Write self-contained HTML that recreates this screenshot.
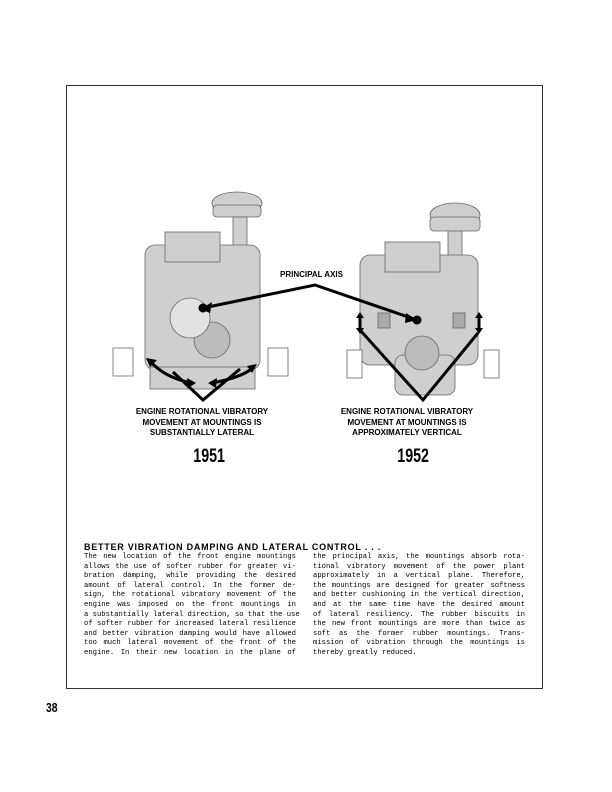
<!DOCTYPE html>
<html><head><meta charset="utf-8"><style>
body{margin:0;background:#fff;}
#p{position:relative;width:612px;height:792px;overflow:hidden;font-family:"Liberation Sans",sans-serif;}
.frame{position:absolute;left:66px;top:85px;width:475px;height:602px;border:1px solid #333;}
.lbl{position:absolute;font-weight:bold;font-size:8px;text-align:center;line-height:10.5px;color:#000;}
.yr{position:absolute;font-weight:bold;font-size:19px;transform:scaleX(0.75);color:#000;}
.col{position:absolute;top:553px;width:212px;font-family:"Liberation Mono",monospace;font-size:7.2px;line-height:9.6px;color:#000;}
.col div{text-align:justify;text-align-last:justify;white-space:nowrap;}
.col div.l{text-align-last:left;}
</style></head><body><div id="p">
<div class="frame"></div>
<svg width="612" height="792" style="position:absolute;left:0;top:0">
<g fill="#cfcfcf" stroke="#666" stroke-width="0.8">
<ellipse cx="237" cy="203" rx="25" ry="11"/>
<rect x="213" y="205" width="48" height="12" rx="4"/>
<rect x="233" y="217" width="14" height="35"/>
<rect x="145" y="245" width="115" height="125" rx="10"/>
<rect x="165" y="232" width="55" height="30"/>
<rect x="150" y="367" width="105" height="22"/>
<circle cx="212" cy="340" r="18" fill="#bcbcbc"/>
<circle cx="190" cy="318" r="20" fill="#e2e2e2"/>
<rect x="113" y="348" width="20" height="28" fill="#fff"/>
<rect x="268" y="348" width="20" height="28" fill="#fff"/>
<ellipse cx="455" cy="215" rx="25" ry="12"/>
<rect x="430" y="217" width="50" height="14" rx="4"/>
<rect x="448" y="231" width="14" height="40"/>
<rect x="360" y="255" width="118" height="110" rx="10"/>
<rect x="385" y="242" width="55" height="30"/>
<rect x="395" y="355" width="60" height="40" rx="8"/>
<circle cx="422" cy="353" r="17" fill="#bcbcbc"/>
<rect x="347" y="350" width="15" height="28" fill="#fff"/>
<rect x="484" y="350" width="15" height="28" fill="#fff"/>
<rect x="378" y="313" width="12" height="15" fill="#aaa"/>
<rect x="453" y="313" width="12" height="15" fill="#aaa"/>
</g>
<g stroke="#000" stroke-width="3" fill="none">
<polyline points="203,308 315,285 417,320"/>
<polyline points="173,372 203,400 240,369"/>
<polyline points="360,330 423,400 478,333"/>
<path d="M150,361 Q165,378 192,383"/>
<path d="M212,383 Q240,378 253,368"/>
<line x1="360" y1="316" x2="360" y2="330"/>
<line x1="479" y1="316" x2="479" y2="330"/>
</g>
<g fill="#000">
<circle cx="203" cy="308" r="4.5"/><circle cx="417" cy="320" r="4.5"/>
<polygon points="201,309 212,302 210,313"/>
<polygon points="417,320 406,313 405,323"/>
<polygon points="146,358 157,360 150,367"/>
<polygon points="196,383 187,378 188,388"/>
<polygon points="208,383 217,378 216,388"/>
<polygon points="257,364 252,373 247,366"/>
<polygon points="360,312 356,318 364,318"/><polygon points="360,334 356,328 364,328"/>
<polygon points="479,312 475,318 483,318"/><polygon points="479,334 475,328 483,328"/>
</g>
</svg>
<div class="lbl" style="left:280px;top:270px;text-align:left">PRINCIPAL AXIS</div>
<div class="lbl" style="left:112px;top:407px;width:180px">ENGINE ROTATIONAL VIBRATORY<br>MOVEMENT AT MOUNTINGS IS<br>SUBSTANTIALLY LATERAL</div>
<div class="lbl" style="left:317px;top:407px;width:180px">ENGINE ROTATIONAL VIBRATORY<br>MOVEMENT AT MOUNTINGS IS<br>APPROXIMATELY VERTICAL</div>
<div class="yr" style="left:188px;top:446px">1951</div>
<div class="yr" style="left:392px;top:446px">1952</div>
<div style="position:absolute;left:84px;top:542px;font-weight:bold;font-size:9px;letter-spacing:0.75px;color:#000">BETTER VIBRATION DAMPING AND LATERAL CONTROL . . .</div>
<div class="col" style="left:84px">
<div>The new location of the front engine mountings</div>
<div>allows the use of softer rubber for greater vi-</div>
<div>bration damping, while providing the desired</div>
<div>amount of lateral control. In the former de-</div>
<div>sign, the rotational vibratory movement of the</div>
<div>engine was imposed on the front mountings in</div>
<div>a substantially lateral direction, so that the use</div>
<div>of softer rubber for increased lateral resilience</div>
<div>and better vibration damping would have allowed</div>
<div>too much lateral movement of the front of the</div>
<div>engine. In their new location in the plane of</div>
</div>
<div class="col" style="left:313px">
<div>the principal axis, the mountings absorb rota-</div>
<div>tional vibratory movement of the power plant</div>
<div>approximately in a vertical plane. Therefore,</div>
<div>the mountings are designed for greater softness</div>
<div>and better cushioning in the vertical direction,</div>
<div>and at the same time have the desired amount</div>
<div>of lateral resiliency. The rubber biscuits in</div>
<div>the new front mountings are more than twice as</div>
<div>soft as the former rubber mountings. Trans-</div>
<div>mission of vibration through the mountings is</div>
<div class="l">thereby greatly reduced.</div>
</div>
<div style="position:absolute;left:46px;top:700px;font-weight:bold;font-size:13px;transform:scaleX(0.8);transform-origin:left">38</div>
</div></body></html>
